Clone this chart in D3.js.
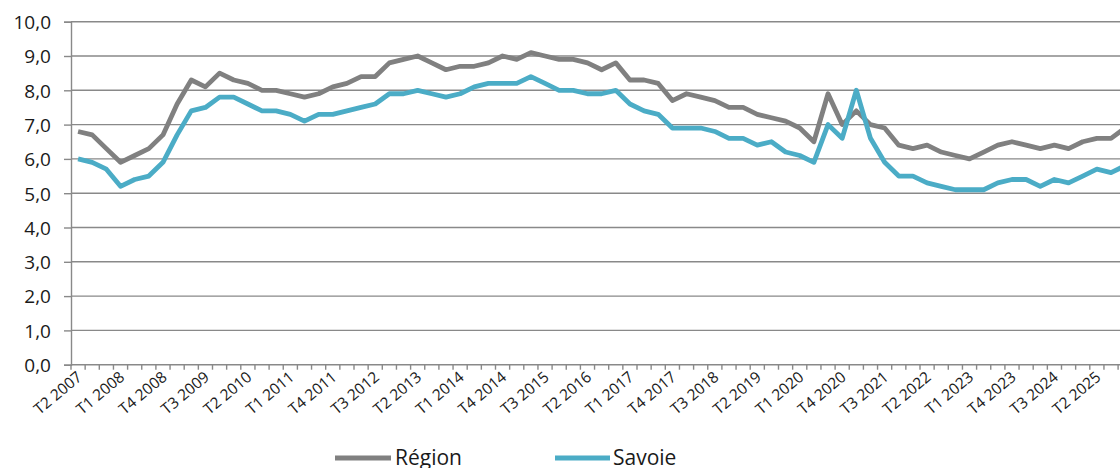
<!DOCTYPE html>
<html>
<head>
<meta charset="utf-8">
<script src="https://cdn.jsdelivr.net/npm/d3@7"></script>
<style>
  html, body { margin: 0; padding: 0; background: #fff; overflow: hidden; }
  svg { display: block; font-family: "Open Sans", sans-serif; }
</style>
</head>
<body>
<svg id="chart" width="1120" height="468"></svg>
<script>
// ---- Data ----
const quarters = [];
(function () {
  let q = 2, yr = 2007;
  for (let i = 0; i < 75; i++) {
    quarters.push("T" + q + " " + yr);
    q++; if (q > 4) { q = 1; yr++; }
  }
})();

const region = [
  6.8,6.7,6.3,5.9,6.1,6.3,6.7,7.6,8.3,8.1,
  8.5,8.3,8.2,8.0,8.0,7.9,7.8,7.9,8.1,8.2,
  8.4,8.4,8.8,8.9,9.0,8.8,8.6,8.7,8.7,8.8,
  9.0,8.9,9.1,9.0,8.9,8.9,8.8,8.6,8.8,8.3,
  8.3,8.2,7.7,7.9,7.8,7.7,7.5,7.5,7.3,7.2,
  7.1,6.9,6.5,7.9,7.0,7.4,7.0,6.9,6.4,6.3,
  6.4,6.2,6.1,6.0,6.2,6.4,6.5,6.4,6.3,6.4,
  6.3,6.5,6.6,6.6,6.9
];

const savoie = [
  6.0,5.9,5.7,5.2,5.4,5.5,5.9,6.7,7.4,7.5,
  7.8,7.8,7.6,7.4,7.4,7.3,7.1,7.3,7.3,7.4,
  7.5,7.6,7.9,7.9,8.0,7.9,7.8,7.9,8.1,8.2,
  8.2,8.2,8.4,8.2,8.0,8.0,7.9,7.9,8.0,7.6,
  7.4,7.3,6.9,6.9,6.9,6.8,6.6,6.6,6.4,6.5,
  6.2,6.1,5.9,7.0,6.6,8.0,6.6,5.9,5.5,5.5,
  5.3,5.2,5.1,5.1,5.1,5.3,5.4,5.4,5.2,5.4,
  5.3,5.5,5.7,5.6,5.8
];

const yTicks = [0,1,2,3,4,5,6,7,8,9,10];
const seriesNames = ["Région", "Savoie"];
const seriesColors = ["#808080", "#4BACC6"];

// ---- Layout ----
const svg = d3.select("#chart");
const mLeft = 71, mTop = 21.7, mBottom = 364.7;
const step = 14.15;

const x = d3.scaleBand().domain(quarters).range([mLeft, mLeft + step * quarters.length]).padding(0);
const y = d3.scaleLinear().domain([0, 10]).range([mBottom, mTop]);
const fmt = v => d3.format(".1f")(v).replace(".", ",");
const gridColor = "#898989";

// gridlines
svg.append("g").selectAll("line").data(yTicks.filter(d => d > 0)).join("line")
  .attr("x1", mLeft).attr("x2", 1120)
  .attr("y1", d => y(d)).attr("y2", d => y(d))
  .attr("stroke", gridColor).attr("stroke-width", 1.4);

// y axis
const yAxis = svg.append("g").attr("transform", `translate(${mLeft},0)`)
  .call(d3.axisLeft(y).tickValues(yTicks).tickFormat(fmt).tickSize(7).tickPadding(13));
yAxis.select(".domain").attr("stroke", gridColor).attr("stroke-width", 1.4);
yAxis.selectAll(".tick line").attr("stroke", gridColor).attr("stroke-width", 1.4);
yAxis.selectAll("text").attr("font-size", 19).attr("fill", "#1a1a1a")
  .attr("font-family", "'Open Sans', sans-serif").attr("dy", "0.36em");

// x axis
const xAxis = svg.append("g").attr("transform", `translate(0,${mBottom})`)
  .call(d3.axisBottom(x).tickValues(quarters.filter((d, i) => i % 3 === 0)).tickSize(0).tickSizeOuter(0));
xAxis.select(".domain").attr("stroke", gridColor).attr("stroke-width", 1.4)
  .attr("d", `M${mLeft},0H1120`);
xAxis.selectAll("text")
  .attr("font-size", 15.5).attr("fill", "#1a1a1a")
  .attr("font-family", "'Open Sans', sans-serif")
  .attr("text-anchor", "end")
  .attr("dy", null).attr("y", 0)
  .attr("transform", "translate(5,14) rotate(-40)");

// boundary ticks
svg.append("g").selectAll("line").data(quarters).join("line")
  .attr("x1", d => x(d)).attr("x2", d => x(d))
  .attr("y1", mBottom).attr("y2", mBottom + 5)
  .attr("stroke", gridColor).attr("stroke-width", 1.4);

// lines
const line = d3.line().x((d, i) => x(quarters[i]) + x.bandwidth() / 2).y(d => y(d));
[region, savoie].forEach((s, k) => {
  svg.append("path").datum(s)
    .attr("fill", "none").attr("stroke", seriesColors[k])
    .attr("stroke-width", 4.8).attr("stroke-linejoin", "round").attr("stroke-linecap", "butt")
    .attr("d", line);
});

// legend
const legendItems = [{x1: 335, x2: 391, tx: 395}, {x1: 555, x2: 610, tx: 613}];
legendItems.forEach((p, k) => {
  svg.append("line").attr("x1", p.x1).attr("x2", p.x2).attr("y1", 458).attr("y2", 458)
    .attr("stroke", seriesColors[k]).attr("stroke-width", 5);
  svg.append("text").attr("x", p.tx).attr("y", 465).text(seriesNames[k])
    .attr("font-size", 21).attr("fill", "#1a1a1a");
});
</script>
</body>
</html>
